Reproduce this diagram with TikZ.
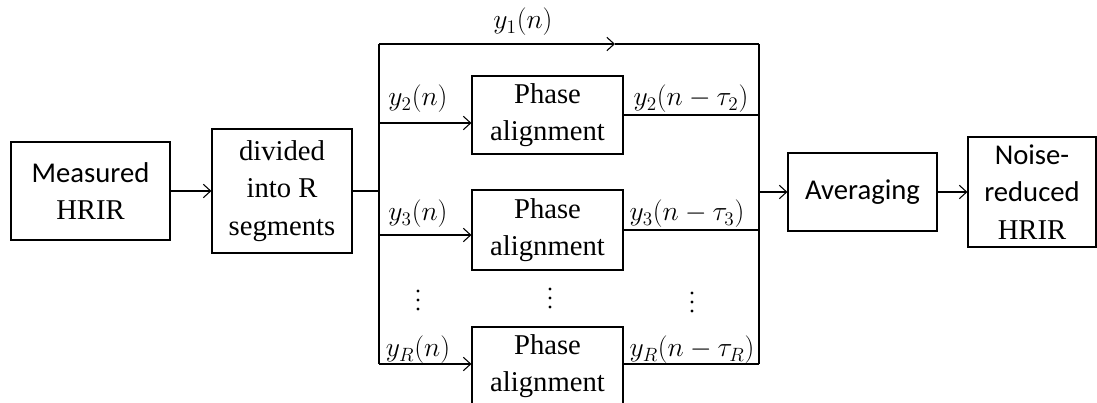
\documentclass[tikz,border=0pt]{standalone}
\usepackage{fontspec}
\setmainfont{Liberation Serif}
\newfontfamily\calibrifont{Carlito}
\usepackage{tikz}
\usetikzlibrary{arrows.meta}

\begin{document}
\begin{tikzpicture}[x=0.75pt,y=0.75pt,yscale=-1,xscale=1,
  box/.style={draw, line width=0.8pt, inner sep=0pt, align=center, font=\fontsize{21.5}{28}\selectfont},
  lbl/.style={inner sep=0.75pt, font=\fontsize{22.5}{26}\selectfont},
  >={Straight Barb[length=5.5pt,width=10pt]}, line width=0.8pt]
\useasboundingbox (0,0) rectangle (1097,403);
\draw (90.5,191) node [box, minimum width=119.25pt, minimum height=73.5pt] (meas) {{\calibrifont Measured}\\HRIR};
\draw (282,191) node [box, minimum width=105pt, minimum height=93pt] (divd) {divided\\into R\\segments};
\draw (547.5,115) node [box, minimum width=113.25pt, minimum height=58.5pt] (ph2) {Phase\\alignment};
\draw (547.5,230) node [box, minimum width=113.25pt, minimum height=60pt] (ph3) {Phase\\alignment};
\draw (547.5,366) node [box, minimum width=113.25pt, minimum height=58.5pt] (phR) {Phase\\alignment};
\draw (862.5,192) node [box, minimum width=111.75pt, minimum height=58.5pt] (avg) {\calibrifont Averaging};
\draw (1032,192) node [box, minimum width=96pt, minimum height=82.5pt] (nr) {{\calibrifont Noise-}\\{\calibrifont reduced}\\HRIR};
\coordinate (sTop) at (379,44);
\coordinate (sMid) at (379,191);
\coordinate (s2) at (379,123);
\coordinate (s3) at (379,235);
\coordinate (sR) at (379,364);
\coordinate (y1mid) at (615,44);
\coordinate (mTop) at (759,44);
\coordinate (m2) at (759,115);
\coordinate (m3) at (759,230);
\coordinate (mR) at (759,364);
\coordinate (mMid) at (759,192);
\draw[->] (meas.east) -- (divd.west);
\draw[line width=1.8pt] (divd.east) -- (sMid);
\draw (sTop) -- (sR);
\draw[->] (sTop) -- (y1mid);
\draw (y1mid) -- (mTop);
\draw[->] (s2) -- (s2 -| ph2.west);
\draw[->] (s3) -- (s3 -| ph3.west);
\draw[->] (sR) -- (sR -| phR.west);
\draw (ph2.east) -- (m2);
\draw (ph3.east) -- (m3);
\draw (phR.east |- mR) -- (mR);
\draw (mTop) -- (mR);
\draw[->] (mMid) -- (avg.west);
\draw[->] (avg.east) -- (nr.west);
\draw (523,22) node [lbl] (lab1) {$y_1(n)$};
\draw (418,99) node [lbl] (lab2in) {$y_2(n)$};
\draw (418,214) node [lbl] (lab3in) {$y_3(n)$};
\draw (418,350) node [lbl] (labRin) {$y_R(n)$};
\draw (691,99) node [lbl] (lab2out) {$y_2(n-\tau_2)$};
\draw (687,214) node [lbl] (lab3out) {$y_3(n-\tau_3)$};
\draw (692,350) node [lbl] (labRout) {$y_R(n-\tau_R)$};
\coordinate (dotin) at (418,300);
\coordinate (dotmid) at (550,298);
\coordinate (dotout) at (692,302);
\foreach \c in {dotin,dotmid,dotout}
  \foreach \dy in {-9,0,9}
    \fill (\c) ++(0,\dy) circle (1.7);
\end{tikzpicture}
\end{document}
